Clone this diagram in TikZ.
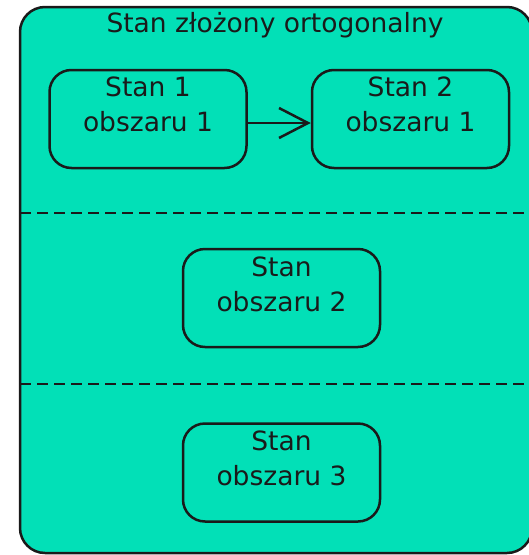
\documentclass[tikz,border=0pt]{standalone}
\usepackage{fontspec}
\setmainfont{DejaVu Sans}
\usetikzlibrary{arrows.meta}
\definecolor{statefill}{RGB}{2,224,183}
\definecolor{edge}{RGB}{26,26,26}
\begin{document}
\begin{tikzpicture}[x=1pt,y=-1pt,
  region/.style={draw=edge, line width=2.5pt, fill=statefill, rounded corners=25pt},
  stbox/.style={draw=edge, line width=2.5pt, rounded corners=22pt,
    minimum width=197pt, minimum height=98pt, inner sep=0pt},
  sttext/.style={font=\fontsize{26.5}{35}\selectfont, align=center,
    anchor=base, inner sep=0pt, text=edge},
  divider/.style={draw=edge, line width=2.5pt, dash pattern=on 11pt off 6pt},
  trans/.style={draw=edge, line width=2.5pt,
    -{Straight Barb[length=29pt,width=30pt,line width=2.5pt]}}
]
\useasboundingbox (0,0) rectangle (529,555);
\begin{scope}
  \clip (0,0) rectangle (529,555);
  % composite state
  \draw[region] (20,7) rectangle (532,553);
  \node[sttext] (title) at (275,32) {Stan złożony ortogonalny};

  % region 1 (multi-line labels sit on the baseline of their last line)
  \node[stbox] (s1) at (148,119) {};
  \node[sttext] (s1t) at (148,131) {Stan 1\\obszaru 1};
  \node[stbox] (s2) at (410.5,119) {};
  \node[sttext] (s2t) at (410.5,131) {Stan 2\\obszaru 1};
  \draw[trans] ([yshift=-4pt]s1.east) -- ([yshift=-4pt]s2.west);

  % region separators
  \coordinate (d1l) at (20,213);
  \coordinate (d1r) at (532,213);
  \draw[divider] (d1l) -- (d1r);
  \coordinate (d2l) at (20,384);
  \coordinate (d2r) at (532,384);
  \draw[divider] (d2l) -- (d2r);

  % region 2
  \node[stbox] (s3) at (281.5,298) {};
  \node[sttext] (s3t) at (281.5,311) {Stan\\obszaru 2};

  % region 3
  \node[stbox] (s4) at (281.5,472.5) {};
  \node[sttext] (s4t) at (281.5,485) {Stan\\obszaru 3};
\end{scope}
\end{tikzpicture}
\end{document}
